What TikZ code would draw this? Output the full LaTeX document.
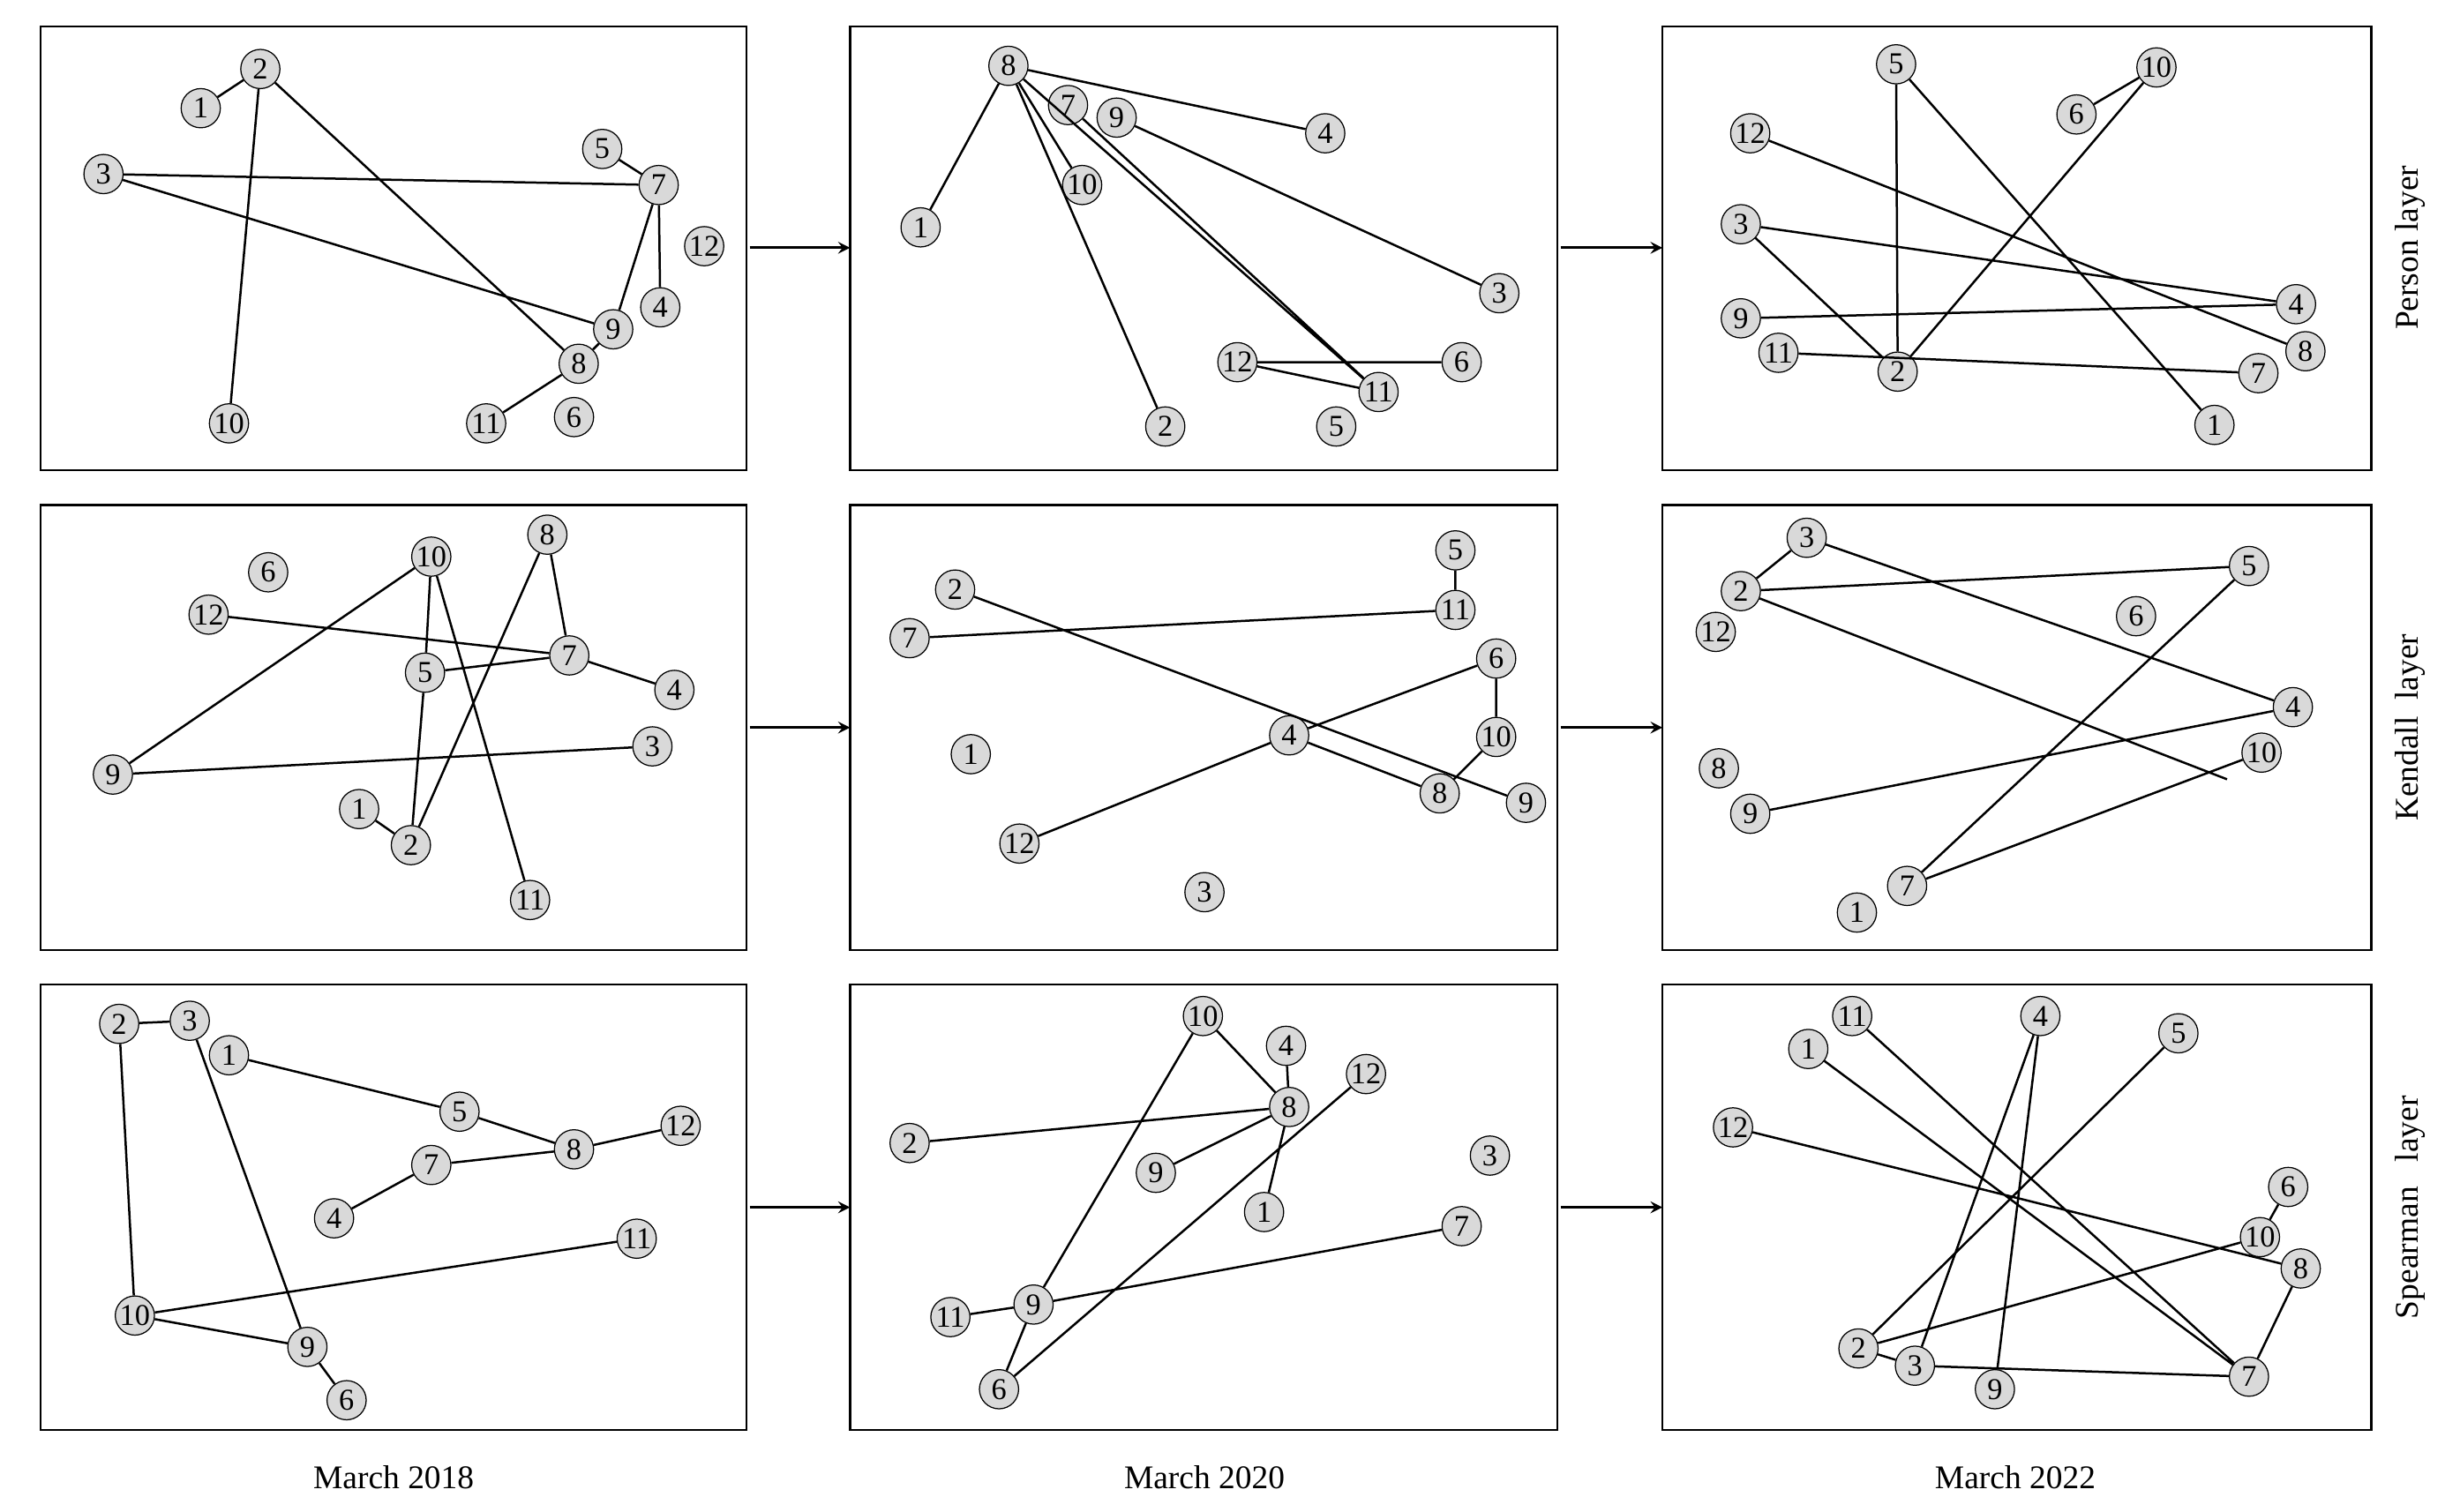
\documentclass[tikz,border=0pt]{standalone}
\usepackage{fontspec}
\setmainfont{Liberation Serif}
\begin{document}
\begin{tikzpicture}[x=0.02cm,y=-0.02cm,
 n/.style={circle,draw,fill=gray!30,minimum size=0.5cm,inner sep=0pt,font=\fontsize{11}{11}\selectfont},
 e/.style={line width=0.8pt},
 panel/.style={draw,line width=0.8pt},
 arr/.style={->,line width=0.9pt,>=stealth},
 lab/.style={font=\fontsize{12}{12}\selectfont}]
\useasboundingbox (0,0) rectangle (1559,964);
% panels
\foreach \r/\ya/\yb in {1/17/300,2/322/606,3/628/912}{
 \draw[panel] (26,\ya) rectangle (476,\yb);
 \draw[panel] (542,\ya) rectangle (993,\yb);
 \draw[panel] (1060,\ya) rectangle (1512,\yb);}
\foreach \y in {158,464,770}{
 \coordinate (a\y) at (478,\y); \coordinate (b\y) at (542,\y);
 \coordinate (c\y) at (995,\y); \coordinate (d\y) at (1060,\y);
 \draw[arr] (a\y) -- (b\y); \draw[arr] (c\y) -- (d\y);}
% P1
\begin{scope}[every node/.style={n}]
\node (A1) at (128,69){1}; \node (A2) at (166,44){2}; \node (A3) at (66,111){3};
\node (A5) at (384,95){5}; \node (A7) at (420,118){7}; \node (A12) at (449,157){12};
\node (A4) at (421,196){4}; \node (A9) at (391,210){9}; \node (A8) at (369,232){8};
\node (A11) at (310,270){11}; \node (A6) at (366,266){6}; \node (A10) at (146,270){10};
\end{scope}
\begin{scope}[on background layer/.try]\end{scope}
\draw[e] (A1)--(A2) (A2)--(A10) (A2)--(A8) (A3)--(A7) (A3)--(A9) (A5)--(A7) (A7)--(A4) (A7)--(A9) (A9)--(A8) (A8)--(A11);
% P2
\begin{scope}[every node/.style={n}]
\node (B8) at (643,42){8}; \node (B7) at (681,67){7}; \node (B9) at (712,75){9};
\node (B4) at (845,85){4}; \node (B10) at (690,118){10}; \node (B1) at (587,145){1};
\node (B3) at (956,187){3}; \node (B12) at (789,231){12}; \node (B6) at (932,231){6};
\node (B11) at (879,250){11}; \node (B5) at (852,272){5}; \node (B2) at (743,272){2};
\end{scope}
\draw[e] (B8)--(B1) (B8)--(B4) (B8)--(B10) (B8)--(B2) (B8)--(B11) (B7)--(B11) (B9)--(B3) (B12)--(B6) (B12)--(B11);
% P3
\begin{scope}[every node/.style={n}]
\node (C5) at (1209,41){5}; \node (C10) at (1375,43){10}; \node (C6) at (1324,73){6};
\node (C12) at (1116,85){12}; \node (C3) at (1110,143){3}; \node (C4) at (1464,194){4};
\node (C8) at (1470,224){8}; \node (C9) at (1110,203){9}; \node (C11) at (1134,225){11};
\node (C2) at (1210,237){2}; \node (C7) at (1440,238){7}; \node (C1) at (1412,271){1};
\end{scope}
\draw[e] (C5)--(C2) (C5)--(C1) (C10)--(C6) (C10)--(C2) (C12)--(C8) (C3)--(C4) (C3)--(C2) (C9)--(C4) (C11)--(C7);
% P4
\begin{scope}[every node/.style={n}]
\node (D10) at (275,355){10}; \node (D8) at (349,341){8}; \node (D6) at (171,365){6};
\node (D12) at (133,392){12}; \node (D7) at (363,418){7}; \node (D4) at (430,440){4};
\node (D5) at (271,429){5}; \node (D9) at (72,494){9}; \node (D3) at (416,476){3};
\node (D1) at (229,516){1}; \node (D2) at (262,539){2}; \node (D11) at (338,574){11};
\end{scope}
\draw[e] (D12)--(D7) (D10)--(D9) (D10)--(D5) (D10)--(D11) (D8)--(D7) (D8)--(D2) (D5)--(D7) (D5)--(D2) (D7)--(D4) (D9)--(D3) (D1)--(D2);
% P5
\begin{scope}[every node/.style={n}]
\node (E5) at (928,351){5}; \node (E11) at (928,389){11}; \node (E2) at (609,376){2};
\node (E7) at (580,407){7}; \node (E6) at (954,420){6}; \node (E10) at (954,470){10};
\node (E4) at (822,469){4}; \node (E1) at (619,481){1}; \node (E8) at (918,506){8};
\node (E9) at (973,512){9}; \node (E12) at (650,538){12}; \node (E3) at (768,569){3};
\end{scope}
\draw[e] (E5)--(E11) (E7)--(E11) (E2)--(E9) (E4)--(E8) (E6)--(E10) (E10)--(E8) (E12)--(E4) (E4)--(E6);
% P6
\begin{scope}[every node/.style={n}]
\node (F3) at (1152,343){3}; \node (F2) at (1110,377){2}; \node (F12) at (1094,403){12};
\node (F5) at (1434,361){5}; \node (F6) at (1362,393){6}; \node (F4) at (1462,451){4};
\node (F10) at (1442,480){10}; \node (F8) at (1096,490){8}; \node (F9) at (1116,519){9};
\node (F1) at (1184,582){1}; \node (F7) at (1216,565){7};
\end{scope}
\coordinate (Fe) at (1420,497);
\draw[e] (F3)--(F2) (F2)--(F5) (F3)--(F4) (F2)--(Fe) (F9)--(F4) (F7)--(F5) (F7)--(F10);
% P7
\begin{scope}[every node/.style={n}]
\node (G2) at (76,653){2}; \node (G3) at (121,651){3}; \node (G1) at (146,673){1};
\node (G5) at (293,709){5}; \node (G8) at (366,733){8}; \node (G12) at (434,718){12};
\node (G7) at (275,743){7}; \node (G4) at (213,777){4}; \node (G11) at (406,790){11};
\node (G10) at (86,839){10}; \node (G9) at (196,859){9}; \node (G6) at (221,893){6};
\end{scope}
\draw[e] (G2)--(G3) (G2)--(G10) (G3)--(G9) (G1)--(G5) (G5)--(G8) (G7)--(G8) (G8)--(G12) (G7)--(G4) (G10)--(G11) (G10)--(G9) (G9)--(G6);
% P8
\begin{scope}[every node/.style={n}]
\node (H10) at (767,648){10}; \node (H4) at (820,667){4}; \node (H12) at (871,685){12};
\node (H8) at (822,706){8}; \node (H2) at (580,729){2}; \node (H9) at (737,748){9};
\node (H3) at (950,737){3}; \node (H1) at (806,773){1}; \node (H7) at (932,782){7};
\node (H11) at (606,840){11}; \node (H9b) at (659,832){9}; \node (H6) at (637,886){6};
\end{scope}
\draw[e] (H10)--(H9b) (H10)--(H8) (H4)--(H8) (H2)--(H8) (H9)--(H8) (H8)--(H1) (H12)--(H6) (H9b)--(H7) (H11)--(H9b) (H9b)--(H6);
% P9
\begin{scope}[every node/.style={n}]
\node (I11) at (1181,648){11}; \node (I1) at (1153,669){1}; \node (I4) at (1301,648){4};
\node (I5) at (1389,659){5}; \node (I12) at (1105,719){12}; \node (I6) at (1459,757){6};
\node (I10) at (1441,789){10}; \node (I8) at (1467,809){8}; \node (I2) at (1185,860){2};
\node (I3) at (1221,871){3}; \node (I9) at (1272,886){9}; \node (I7) at (1434,878){7};
\end{scope}
\draw[e] (I11)--(I7) (I1)--(I7) (I12)--(I8) (I4)--(I3) (I4)--(I9) (I5)--(I2) (I2)--(I10) (I2)--(I3) (I3)--(I7) (I6)--(I10) (I8)--(I7);
% labels
\node[lab] (t1) at (251,942) {March 2018};
\node[lab] (t2) at (768,942) {March 2020};
\node[lab] (t3) at (1285,942) {March 2022};
\node[lab,rotate=90] (s1) at (1537,158) {Person layer};
\node[lab,rotate=90] (s2) at (1537,464) {Kendall\ \ layer};
\node[lab,rotate=90] (s3) at (1537,770) {Spearman\ \ \ layer};
\end{tikzpicture}
\end{document}
